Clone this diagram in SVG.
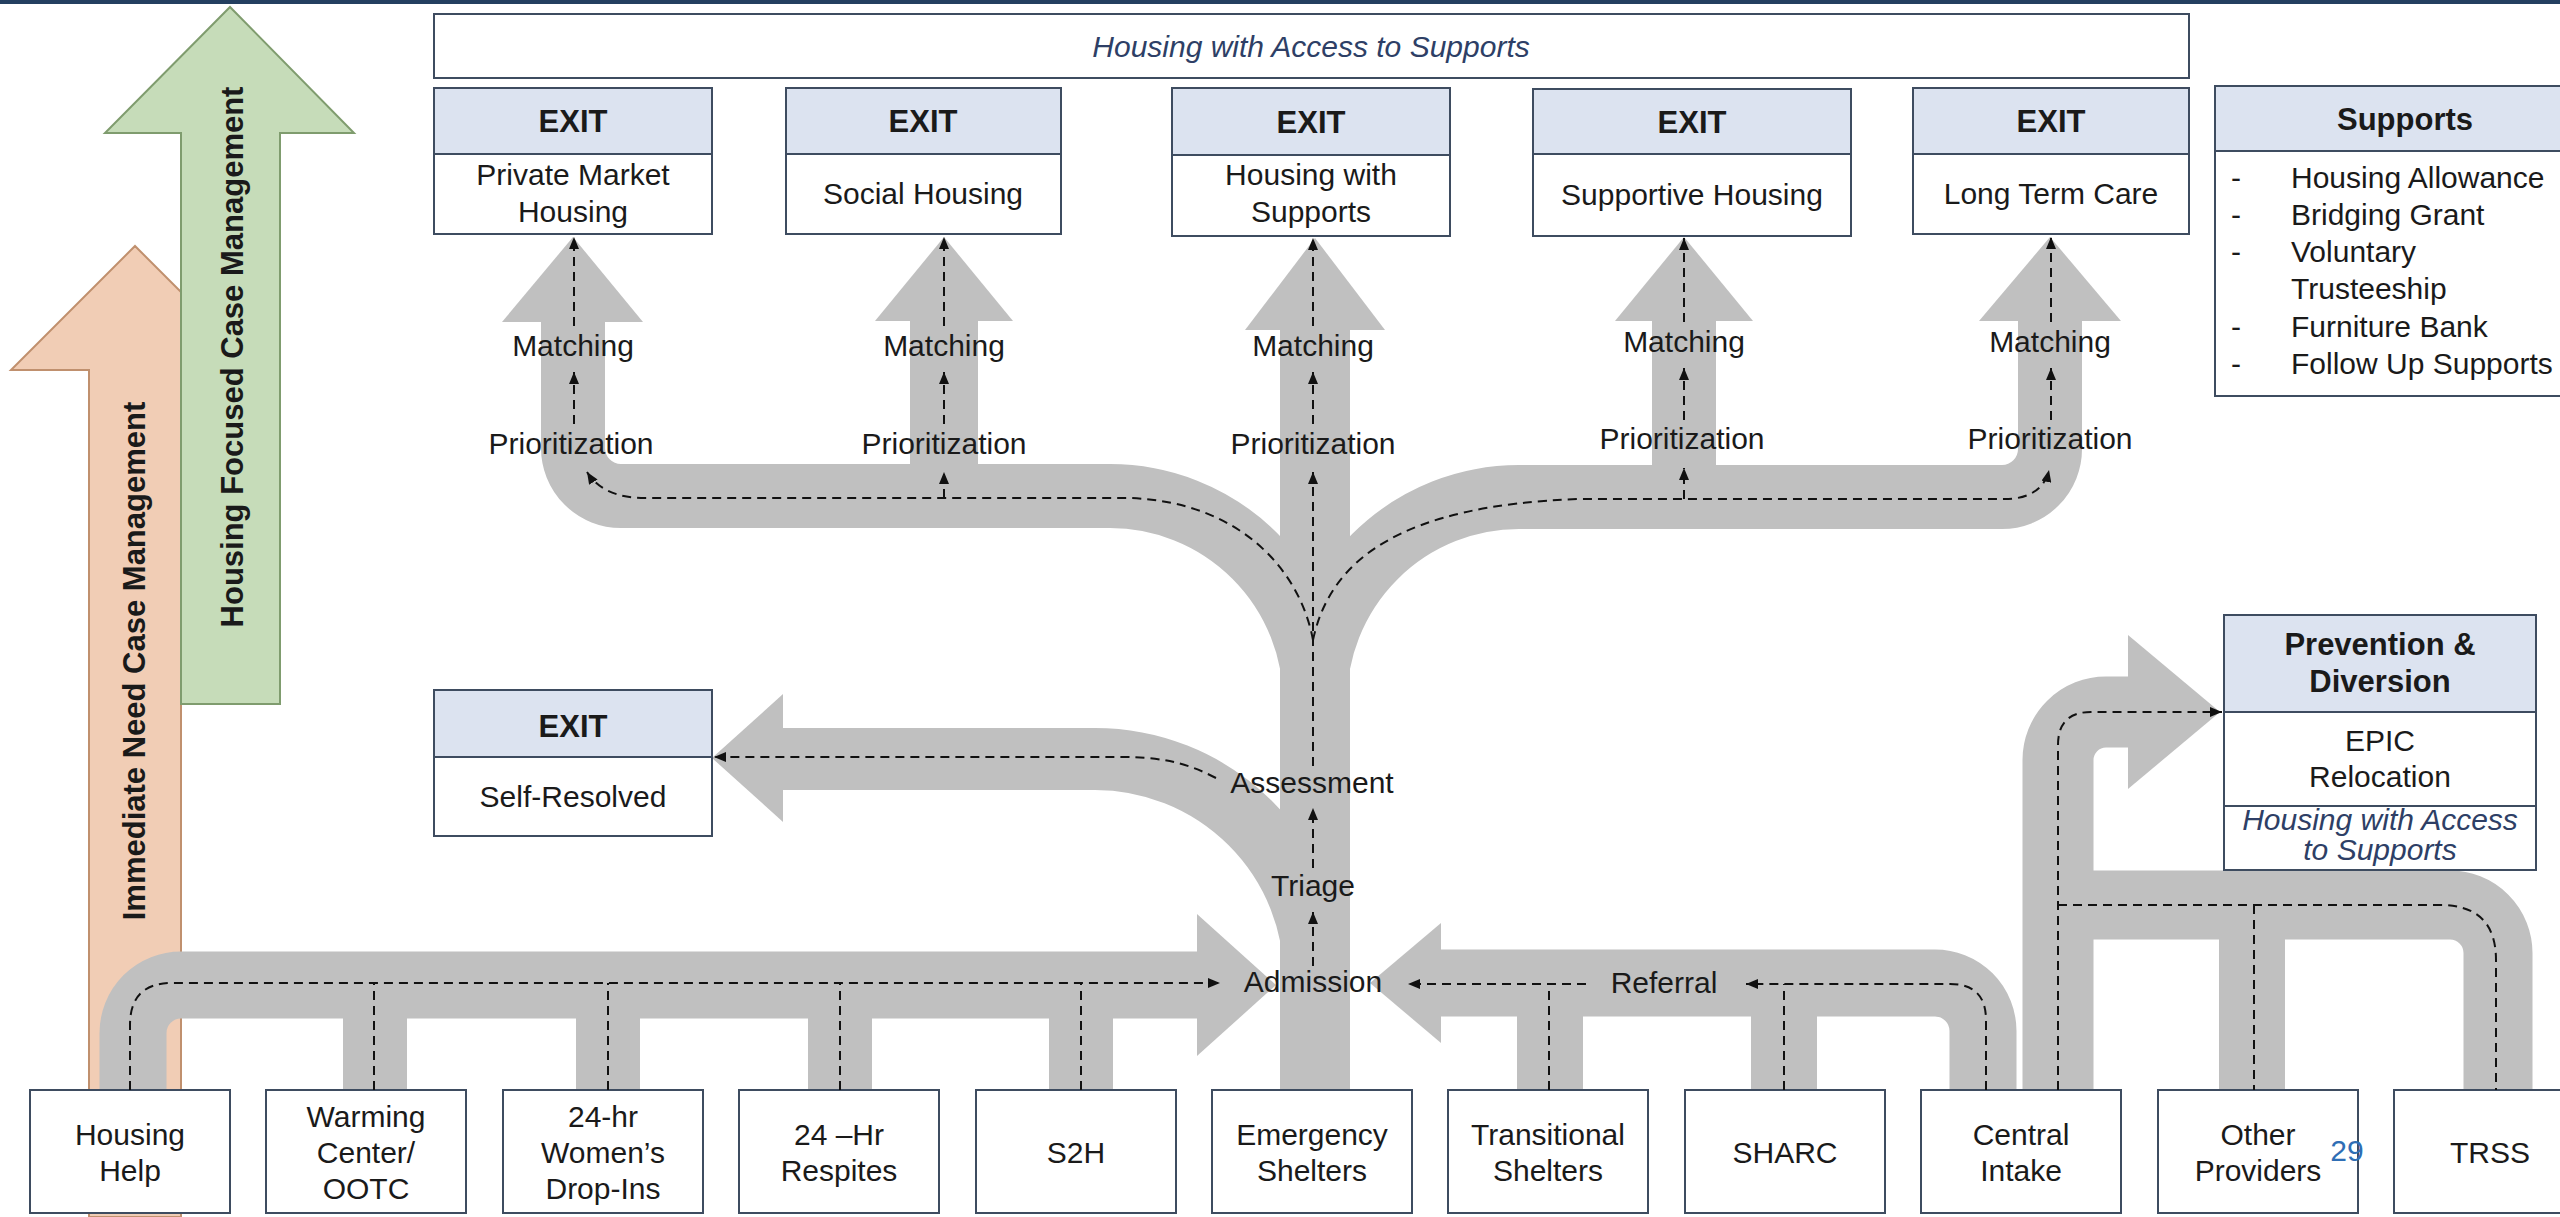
<svg xmlns="http://www.w3.org/2000/svg" width="2560" height="1217" viewBox="0 0 2560 1217">
<defs>
<style>
text{font-family:"Liberation Sans",Arial,sans-serif;font-size:30px;fill:#1a1a1a;text-anchor:middle}
.b{font-weight:bold;font-size:31px}
.it{font-style:italic;fill:#2e3f66}
.st{text-anchor:start}
.box{fill:#fff;stroke:#3e4c60;stroke-width:2}
.hdr{fill:#dce3f0;stroke:#3e4c60;stroke-width:2}
.road{fill:none;stroke:#c0c0c0;stroke-linejoin:round}
.head{fill:#c0c0c0}
.dash{fill:none;stroke:#111;stroke-width:2;stroke-dasharray:9 6}
</style>
<marker id="ah" viewBox="0 0 12 10" refX="12" refY="5" markerWidth="12" markerHeight="10" markerUnits="userSpaceOnUse" orient="auto"><path d="M0,0 L12,5 L0,10 z" fill="#111"/></marker>
</defs>
<rect x="0" y="0" width="2560" height="1217" fill="#fff"/>
<rect x="0" y="0" width="2560" height="4" fill="#243f60"/>

<g id="case-management">
<polygon points="89,1217 89,370 11,370 135,246 259,370 181,370 181,1217" fill="#f1cdb5" stroke="#c0906e" stroke-width="2"/>
<polygon points="181,704 181,133 105,133 230,7 354,133 280,133 280,704" fill="#c6dcb9" stroke="#7f9c6e" stroke-width="2"/>
<text class="b" transform="translate(145,661) rotate(-90)">Immediate Need Case Management</text>
<text class="b" transform="translate(243,357) rotate(-90)">Housing Focused Case Management</text>
</g>

<g id="roads">
<!-- trunk -->
<path class="road" stroke-width="70" d="M1315 1092 L1315 326"/>
<polygon class="head" points="1245,330 1315,238 1385,330"/>
<!-- left branch -->
<path class="road" stroke-width="64" d="M1315 760 L1315 701 A205 205 0 0 0 1110 496 L621 496 A48 48 0 0 1 573 448 L573 320"/>
<polygon class="head" points="502,322 573,237 643,322"/>
<path class="road" stroke-width="68" d="M944 500 L944 318"/>
<polygon class="head" points="875,321 944,237 1013,321"/>
<!-- right branch -->
<path class="road" stroke-width="64" d="M1315 760 L1315 701 A204 204 0 0 1 1519 497 L2002 497 A48 48 0 0 0 2050 449 L2050 318"/>
<polygon class="head" points="1979,321 2050,237 2121,321"/>
<path class="road" stroke-width="64" d="M1684 500 L1684 318"/>
<polygon class="head" points="1615,321 1684,237 1753,321"/>
<!-- self-resolved -->
<path class="road" stroke-width="62" d="M1315 1000 L1315 979 A220 220 0 0 0 1095 759 L780 759"/>
<polygon class="head" points="783,694 712,758 783,822"/>
<!-- left conveyor -->
<path class="road" stroke-width="67" d="M133 1092 L133 1033 A48 48 0 0 1 181 985 L1200 985"/>
<path class="road" stroke-width="64" d="M375 1092 L375 990 M608 1092 L608 990 M840 1092 L840 990 M1081 1092 L1081 990"/>
<polygon class="head" points="1197,914 1276,985 1197,1056"/>
<!-- referral conveyor -->
<path class="road" stroke-width="67" d="M1438 983 L1935 983 A48 48 0 0 1 1983 1031 L1983 1092"/>
<path class="road" stroke-width="66" d="M1550 1092 L1550 990 M1784 1092 L1784 990"/>
<polygon class="head" points="1441,923 1370,983 1441,1043"/>
<!-- prevention -->
<path class="road" stroke-width="71" d="M2058 1092 L2058 760 A48 48 0 0 1 2106 712 L2131 712"/>
<polygon class="head" points="2128,635 2220,712 2128,789"/>
<!-- TRSS / other -->
<path class="road" stroke-width="69" d="M2058 905 L2450 905 A48 48 0 0 1 2498 953 L2498 1092"/>
<path class="road" stroke-width="66" d="M2252 905 L2252 1092"/>
</g>

<g id="top-banner">
<rect class="box" x="434" y="14" width="1755" height="64"/>
<text class="it" x="1311" y="57" font-size="31">Housing with Access to Supports</text>
</g>

<g id="exit-private">
<rect class="box" x="434" y="88" width="278" height="146"/>
<rect class="hdr" x="434" y="88" width="278" height="66"/>
<text class="b" x="573" y="132">EXIT</text>
<text x="573" y="185">Private Market</text>
<text x="573" y="222">Housing</text>
</g>
<g id="exit-social">
<rect class="box" x="786" y="88" width="275" height="146"/>
<rect class="hdr" x="786" y="88" width="275" height="66"/>
<text class="b" x="923" y="132">EXIT</text>
<text x="923" y="204">Social Housing</text>
</g>
<g id="exit-with-supports">
<rect class="box" x="1172" y="88" width="278" height="148"/>
<rect class="hdr" x="1172" y="88" width="278" height="67"/>
<text class="b" x="1311" y="133">EXIT</text>
<text x="1311" y="185">Housing with</text>
<text x="1311" y="222">Supports</text>
</g>
<g id="exit-supportive">
<rect class="box" x="1533" y="89" width="318" height="147"/>
<rect class="hdr" x="1533" y="89" width="318" height="65"/>
<text class="b" x="1692" y="133">EXIT</text>
<text x="1692" y="205">Supportive Housing</text>
</g>
<g id="exit-ltc">
<rect class="box" x="1913" y="88" width="276" height="146"/>
<rect class="hdr" x="1913" y="88" width="276" height="66"/>
<text class="b" x="2051" y="132">EXIT</text>
<text x="2051" y="204">Long Term Care</text>
</g>

<g id="supports">
<rect class="box" x="2215" y="86" width="400" height="310"/>
<rect class="hdr" x="2215" y="86" width="400" height="65"/>
<text class="b" x="2405" y="130">Supports</text>
<text x="2236" y="188">-</text><text class="st" x="2291" y="188">Housing Allowance</text>
<text x="2236" y="225">-</text><text class="st" x="2291" y="225">Bridging Grant</text>
<text x="2236" y="262">-</text><text class="st" x="2291" y="262">Voluntary</text>
<text class="st" x="2291" y="299">Trusteeship</text>
<text x="2236" y="337">-</text><text class="st" x="2291" y="337">Furniture  Bank</text>
<text x="2236" y="374">-</text><text class="st" x="2291" y="374">Follow Up Supports</text>
</g>

<g id="exit-self-resolved">
<rect class="box" x="434" y="690" width="278" height="146"/>
<rect class="hdr" x="434" y="690" width="278" height="67"/>
<text class="b" x="573" y="737">EXIT</text>
<text x="573" y="807">Self-Resolved</text>
</g>

<g id="prevention">
<rect class="box" x="2224" y="615" width="312" height="255"/>
<rect class="hdr" x="2224" y="615" width="312" height="97"/>
<line x1="2224" y1="806" x2="2536" y2="806" stroke="#3e4c60" stroke-width="2"/>
<text class="b" x="2380" y="655">Prevention &amp;</text>
<text class="b" x="2380" y="692">Diversion</text>
<text x="2380" y="751">EPIC</text>
<text x="2380" y="787">Relocation</text>
<text class="it" x="2380" y="830" font-size="26">Housing with Access</text>
<text class="it" x="2380" y="860" font-size="26">to Supports</text>
</g>

<g id="src-housing-help"><rect class="box" x="30" y="1090" width="200" height="123"/><text x="130" y="1145">Housing</text><text x="130" y="1181">Help</text></g>
<g id="src-warming"><rect class="box" x="266" y="1090" width="200" height="123"/><text x="366" y="1127">Warming</text><text x="366" y="1163">Center/</text><text x="366" y="1199">OOTC</text></g>
<g id="src-womens"><rect class="box" x="503" y="1090" width="200" height="123"/><text x="603" y="1127">24-hr</text><text x="603" y="1163">Women’s</text><text x="603" y="1199">Drop-Ins</text></g>
<g id="src-respites"><rect class="box" x="739" y="1090" width="200" height="123"/><text x="839" y="1145">24 –Hr</text><text x="839" y="1181">Respites</text></g>
<g id="src-s2h"><rect class="box" x="976" y="1090" width="200" height="123"/><text x="1076" y="1163">S2H</text></g>
<g id="src-emergency"><rect class="box" x="1212" y="1090" width="200" height="123"/><text x="1312" y="1145">Emergency</text><text x="1312" y="1181">Shelters</text></g>
<g id="src-transitional"><rect class="box" x="1448" y="1090" width="200" height="123"/><text x="1548" y="1145">Transitional</text><text x="1548" y="1181">Shelters</text></g>
<g id="src-sharc"><rect class="box" x="1685" y="1090" width="200" height="123"/><text x="1785" y="1163">SHARC</text></g>
<g id="src-central"><rect class="box" x="1921" y="1090" width="200" height="123"/><text x="2021" y="1145">Central</text><text x="2021" y="1181">Intake</text></g>
<g id="src-other"><rect class="box" x="2158" y="1090" width="200" height="123"/><text x="2258" y="1145">Other</text><text x="2258" y="1181">Providers</text></g>
<g id="src-trss"><rect class="box" x="2394" y="1090" width="200" height="123"/><text x="2490" y="1163">TRSS</text></g>

<g id="connectors">
<!-- trunk -->
<path class="dash" marker-end="url(#ah)" d="M1313 966 L1313 912"/>
<path class="dash" marker-end="url(#ah)" d="M1313 868 L1313 808"/>
<path class="dash" marker-end="url(#ah)" d="M1313 766 L1313 472"/>
<path class="dash" marker-end="url(#ah)" d="M1313 424 L1313 372"/>
<path class="dash" marker-end="url(#ah)" d="M1313 326 L1313 238"/>
<!-- left branch -->
<path class="dash" marker-end="url(#ah)" d="M1313 640 C1300 570 1240 502 1130 498 L645 498 C615 498 597 488 587 472"/>
<path class="dash" marker-end="url(#ah)" d="M574 424 L574 372"/>
<path class="dash" marker-end="url(#ah)" d="M574 326 L574 237"/>
<path class="dash" marker-end="url(#ah)" d="M944 498 L944 472"/>
<path class="dash" marker-end="url(#ah)" d="M944 424 L944 372"/>
<path class="dash" marker-end="url(#ah)" d="M944 326 L944 237"/>
<!-- right branch -->
<path class="dash" marker-end="url(#ah)" d="M1313 640 C1330 560 1400 505 1580 499 L2005 499 C2030 499 2045 488 2049 470"/>
<path class="dash" marker-end="url(#ah)" d="M1684 499 L1684 468"/>
<path class="dash" marker-end="url(#ah)" d="M1684 420 L1684 368"/>
<path class="dash" marker-end="url(#ah)" d="M1684 322 L1684 238"/>
<path class="dash" marker-end="url(#ah)" d="M2051 420 L2051 368"/>
<path class="dash" marker-end="url(#ah)" d="M2051 322 L2051 237"/>
<!-- self-resolved -->
<path class="dash" marker-end="url(#ah)" d="M1216 778 C1185 762 1160 757 1120 757 L714 757"/>
<!-- left conveyor -->
<path class="dash" marker-end="url(#ah)" d="M130 1090 L130 1025 Q130 983 172 983 L1220 983"/>
<path class="dash" d="M374 1090 L374 983 M608 1090 L608 983 M840 1090 L840 983 M1081 1090 L1081 983"/>
<!-- referral -->
<path class="dash" marker-end="url(#ah)" d="M1986 1090 L1986 1020 Q1986 984 1950 984 L1746 984"/>
<path class="dash" marker-end="url(#ah)" d="M1586 984 L1408 984"/>
<path class="dash" d="M1549 1090 L1549 984 M1784 1090 L1784 984"/>
<!-- prevention -->
<path class="dash" marker-end="url(#ah)" d="M2058 1090 L2058 745 Q2058 712 2091 712 L2222 712"/>
<path class="dash" d="M2058 905 L2440 905 Q2496 905 2496 960 L2496 1090 M2254 905 L2254 1090"/>
</g>

<g id="labels">
<text x="573" y="356">Matching</text>
<text x="944" y="356">Matching</text>
<text x="1313" y="356">Matching</text>
<text x="1684" y="352">Matching</text>
<text x="2050" y="352">Matching</text>
<text x="571" y="454">Prioritization</text>
<text x="944" y="454">Prioritization</text>
<text x="1313" y="454">Prioritization</text>
<text x="1682" y="449">Prioritization</text>
<text x="2050" y="449">Prioritization</text>
<text x="1312" y="793">Assessment</text>
<text x="1313" y="896">Triage</text>
<text x="1313" y="992">Admission</text>
<text x="1664" y="993">Referral</text>
<text x="2347" y="1161" font-size="29" style="fill:#2f6eb5">29</text>
</g>
</svg>
